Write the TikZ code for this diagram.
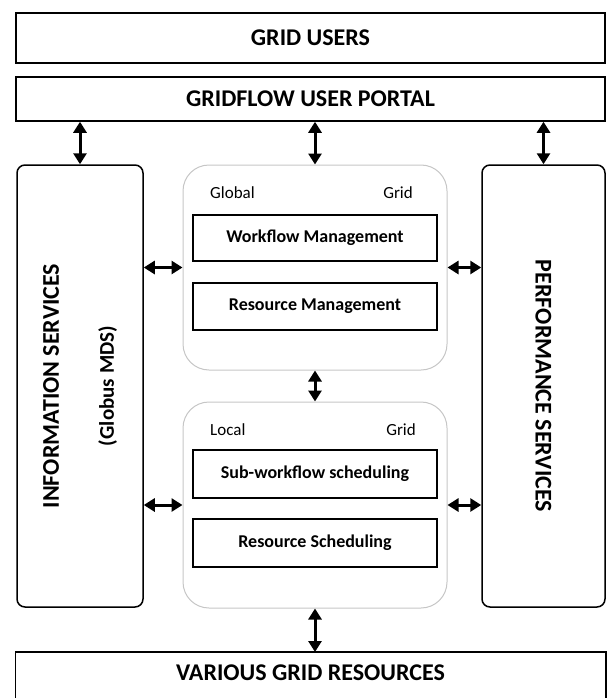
\documentclass[tikz,border=0pt]{standalone}
\usepackage{fontspec}
\setmainfont{Carlito}
\usetikzlibrary{arrows.meta}
\tikzset{
	hb/.style={draw, line width=1.5pt, inner sep=0pt, font=\fontsize{24}{29}\selectfont\bfseries},
	sb/.style={hb, rounded corners=8pt},
	cb/.style={draw=gray!45, line width=1pt, rounded corners=26pt, minimum width=264pt},
	ib/.style={draw, line width=1.3pt, minimum width=244pt, minimum height=47pt, font=\fontsize{18}{22}\selectfont\bfseries},
	lb/.style={inner sep=0pt, font=\fontsize{17}{20}\selectfont},
	ar/.style={{Triangle[width=13pt,length=11pt]}-{Triangle[width=13pt,length=11pt]}, line width=3pt},
}

\begin{document}
\begin{tikzpicture}[x=1pt, y=-1pt]
	\useasboundingbox (0,0) rectangle (607,698);
	\clip (0,0) rectangle (607,698);

	\node [hb, minimum width=589pt, minimum height=50pt] (users) at (310.5,38) {GRID USERS};
	\node [hb, minimum width=589pt, minimum height=44pt] (portal) at (310.5,99) {GRIDFLOW USER PORTAL};

	\node [sb, minimum width=442pt, minimum height=126pt, rotate=90, align=center] (info) at (80,386) {INFORMATION SERVICES\\[26pt]{\fontsize{21}{25}\selectfont (Globus MDS)}};
	\node [sb, minimum width=442pt, minimum height=123pt, rotate=-90] (perf) at (543.5,386) {PERFORMANCE SERVICES};

	\node [cb, minimum height=205pt] (global) at (315,267.5) {};
	\node [cb, minimum height=206pt] (local) at (315,505) {};
	\node [lb, anchor=base west] (gl) at (210,198) {Global};
	\node [lb, anchor=base east] (gg) at (413,198) {Grid};
	\node [lb, anchor=base west] (ll) at (210,435) {Local};
	\node [lb, anchor=base east] (lg) at (416,435) {Grid};
	\node [ib, minimum height=46pt] (wfm) at (315,238) {Workflow Management};
	\node [ib] (rm) at (315,306.5) {Resource Management};
	\node [ib, minimum height=48pt] (swf) at (315,474) {Sub-workflow scheduling};
	\node [ib, minimum height=48pt] (rs) at (315,543) {Resource Scheduling};

	\node [hb, draw=none, minimum width=589pt, text height=17pt, text depth=50pt, inner ysep=11pt, anchor=north] (res) at (310.5,652) {VARIOUS GRID RESOURCES};
	\draw [line width=1.5pt] (res.south west) -- (res.north west) -- (res.north east) -- (res.south east);

	\draw [ar] (info.east) -- (info.east |- portal.south);
	\draw [ar] (global.north) -- (global.north |- portal.south);
	\draw [ar] (perf.west) -- (perf.west |- portal.south);
	\draw [ar] (global.south) -- (local.north);
	\draw [ar] (local.south) -- (local.south |- res.north);

	\draw [ar] (global.west) -- (global.west -| info.south);
	\draw [ar] (global.east) -- (global.east -| perf.south);
	\draw [ar] (local.west) -- (local.west -| info.south);
	\draw [ar] (local.east) -- (local.east -| perf.south);
\end{tikzpicture}
\end{document}
